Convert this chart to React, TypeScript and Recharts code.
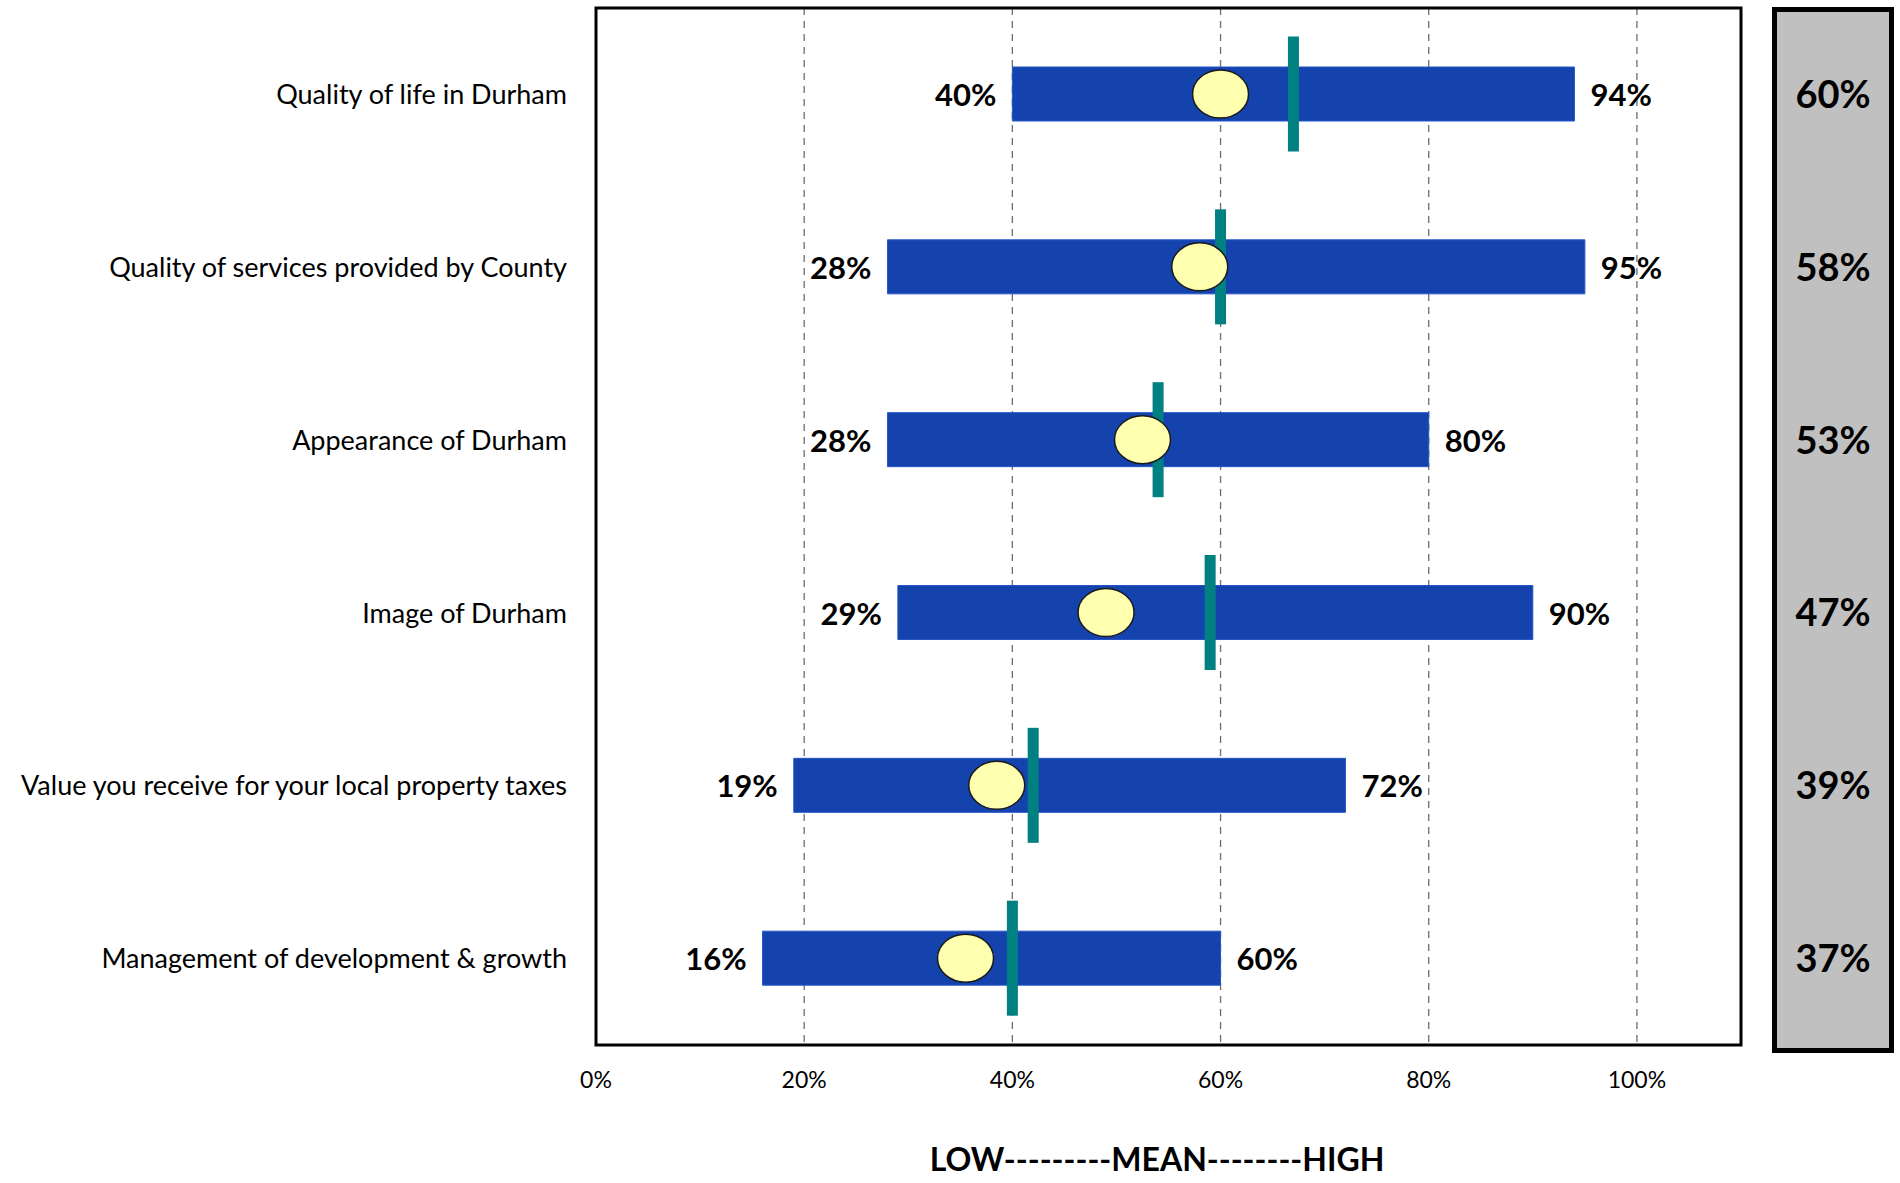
import {
  ComposedChart,
  Bar,
  XAxis,
  YAxis,
  CartesianGrid,
  ReferenceArea,
  LabelList,
} from 'recharts'

const categories = [
  'Quality of life in Durham',
  'Quality of services provided by County',
  'Appearance of Durham',
  'Image of Durham',
  'Value you receive for your local property taxes',
  'Management of development & growth',
]
const lowValues = [40, 28, 28, 29, 19, 16]
const highValues = [94, 95, 80, 90, 72, 60]
const meanMarks = [60, 58, 52.5, 49, 38.5, 35.5]
const benchmarkMarks = [67, 60, 54, 59, 42, 40]
const overallScores = [60, 58, 53, 47, 39, 37]
const xTicks = [0, 20, 40, 60, 80, 100]

const FONT = 'Lato, "Open Sans", sans-serif'

const data = categories.map((name, i) => ({
  name,
  range: [lowValues[i], highValues[i]],
  mean: meanMarks[i],
  bench: benchmarkMarks[i],
}))

// low / high percentages on either end of the range bar
function RangeLabels(props: any) {
  const vb = props.viewBox ?? props
  const { x, y, width, height } = vb
  const i = props.index
  const cy = y + height / 2
  const style = { fontFamily: FONT, fontWeight: 700, fontSize: 31, fill: '#000' }
  return (
    <g>
      <text x={x - 16} y={cy} textAnchor="end" dominantBaseline="central" style={style}>
        {lowValues[i]}%
      </text>
      <text x={x + width + 16} y={cy} textAnchor="start" dominantBaseline="central" style={style}>
        {highValues[i]}%
      </text>
    </g>
  )
}

function MeanMarker(props: any) {
  const { x, y, width, height } = props
  return (
    <ellipse
      cx={x + width}
      cy={y + height / 2}
      rx={28}
      ry={24}
      fill="#FFFFB0"
      stroke="#1a1a1a"
      strokeWidth={1.5}
    />
  )
}

function BenchmarkMarker(props: any) {
  const { x, y, width, height } = props
  return <rect x={x + width - 5.5} y={y + height / 2 - 57.5} width={11} height={115} fill="#008080" />
}

export default function App() {
  return (
    <div style={{ position: 'absolute', left: 0, top: 0, width: 1900, height: 1183, background: '#fff', overflow: 'hidden' }}>
      <ComposedChart
        width={1900}
        height={1183}
        data={data}
        layout="vertical"
        margin={{ top: 8, right: 159, left: 0, bottom: 98 }}
      >
        <CartesianGrid
          yAxisId="main"
          horizontal={false}
          stroke="#6e6e6e"
          strokeWidth={1.3}
          strokeDasharray="7 6"
        />
        <XAxis
          type="number"
          domain={[0, 110]}
          ticks={xTicks}
          tickFormatter={(v) => `${v}%`}
          axisLine={false}
          tickLine={false}
          tickSize={0}
          tickMargin={27}
          height={40}
          tick={{ fill: '#000', fontSize: 23, fontFamily: FONT }}
        />
        <YAxis
          yAxisId="main"
          type="category"
          dataKey="name"
          width={596}
          axisLine={false}
          tickLine={false}
          tickSize={0}
          tickMargin={29}
          tick={{ fill: '#000', fontSize: 27, fontFamily: FONT }}
        />
        <YAxis yAxisId="bench" type="category" dataKey="name" width={0} hide />
        <YAxis yAxisId="mean" type="category" dataKey="name" width={0} hide />
        <Bar
          yAxisId="main"
          dataKey="range"
          barSize={54}
          fill="#1543AE"
          stroke="#2456c8"
          strokeWidth={1}
          isAnimationActive={false}
        >
          <LabelList dataKey="range" content={RangeLabels} />
        </Bar>
        <Bar yAxisId="bench" dataKey="bench" barSize={20} shape={BenchmarkMarker} isAnimationActive={false} />
        <Bar yAxisId="mean" dataKey="mean" barSize={20} shape={MeanMarker} isAnimationActive={false} />
        <ReferenceArea
          yAxisId="main"
          x1={0}
          x2={110}
          stroke="#000"
          strokeWidth={3}
          fill="none"
          fillOpacity={0}
          ifOverflow="visible"
        />
      </ComposedChart>

      {/* overall score column */}
      <div
        style={{
          position: 'absolute',
          left: 1772,
          top: 7,
          width: 122,
          height: 1046,
          boxSizing: 'border-box',
          border: '5px solid #000',
          background: '#C0C0C0',
          display: 'flex',
          flexDirection: 'column',
        }}
      >
        {overallScores.map((s, i) => (
          <div
            key={i}
            style={{
              flex: 1,
              display: 'flex',
              alignItems: 'center',
              justifyContent: 'center',
              fontFamily: FONT,
              fontWeight: 700,
              fontSize: 38,
              color: '#000',
              transform: 'translateY(-5px)',
            }}
          >
            {s}%
          </div>
        ))}
      </div>

      <div
        style={{
          position: 'absolute',
          left: 857,
          top: 1143,
          width: 600,
          textAlign: 'center',
          fontFamily: FONT,
          fontWeight: 700,
          fontSize: 32,
          lineHeight: '32px',
          color: '#000',
        }}
      >
        LOW---------MEAN--------HIGH
      </div>
    </div>
  )
}
